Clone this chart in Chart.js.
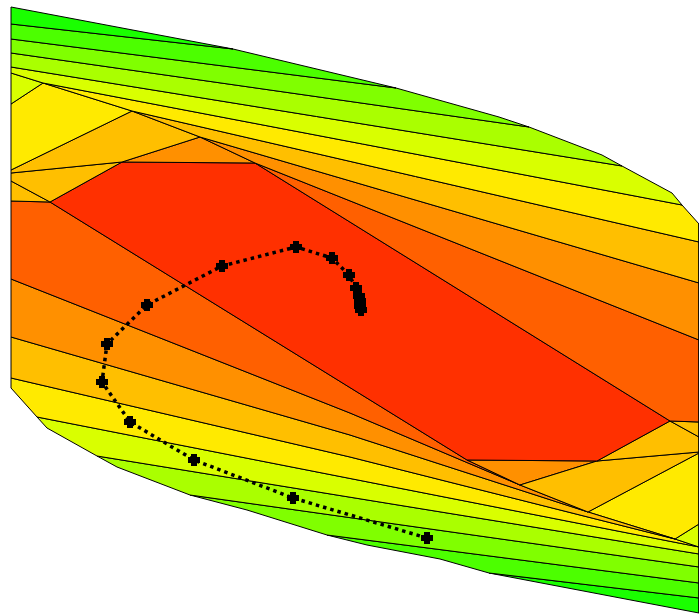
<!DOCTYPE html>
<html><head><meta charset="utf-8">
<script src="https://cdn.jsdelivr.net/npm/chart.js@4.4.1/dist/chart.umd.min.js"></script>
<style>html,body{margin:0;padding:0;background:#fff}#wrap{width:699px;height:616px;position:relative}</style>
</head><body><div id="wrap"><canvas id="c"></canvas></div>
<script>
// Level colours, lowest (0) to highest (9)
const levelColors = ['#1aff00','#4cff00','#80ff00','#aaff00','#d9ff00','#ffea00','#ffbf00','#ff9000','#ff6000','#ff3000'];

// Contour regions: [x, y] vertices in data units, and the level of each region
const band0a = [[0.11,0.07],[2.33,0.49],[0.11,0.24]];
const band1a = [[0.11,0.24],[2.33,0.49],[3.96,0.88],[0.11,0.39]];
const band2a = [[0.11,0.39],[3.96,0.88],[4.99,1.17],[5.29,1.27],[0.11,0.53]];
const band3a = [[0.11,0.53],[5.29,1.27],[6.02,1.55],[6.22,1.66],[0.11,0.67]];
const band4a = [[0.11,0.67],[6.22,1.66],[6.72,1.93],[6.82,2.05],[0.43,0.83],[0.11,0.73]];
const band4b = [[0.11,0.73],[0.43,0.83],[0.11,1.04]];
const band5a = [[0.43,0.83],[6.82,2.05],[6.99,2.24],[6.99,2.42],[1.32,1.11]];
const band5b = [[0.11,1.04],[0.43,0.83],[1.32,1.11],[0.11,1.70]];
const band6a = [[1.32,1.11],[6.99,2.42],[6.99,2.83],[2.00,1.37]];
const band6b = [[0.11,1.70],[1.32,1.11],[2.00,1.37],[1.22,1.62],[0.11,1.73]];
const band6c = [[0.11,1.73],[1.22,1.62],[0.50,2.02],[0.11,1.81]];
const band6h = [[0.11,1.81],[0.50,2.02],[0.11,2.01]];
const band7b = [[2.00,1.37],[6.99,2.83],[6.99,3.40],[2.55,1.63]];
const band7c = [[2.00,1.37],[2.55,1.63],[1.22,1.62]];
const band8a = [[2.55,1.63],[6.99,3.40],[6.99,4.22],[6.70,4.21]];
const band9a = [[0.50,2.02],[1.22,1.62],[2.55,1.63],[6.70,4.21],[5.97,4.61],[4.67,4.60]];
const band6d = [[6.70,4.21],[6.99,4.22],[6.99,4.37]];
const band6e = [[6.70,4.21],[6.99,4.37],[6.99,4.52],[5.97,4.61]];
const band6g = [[5.20,4.85],[5.97,4.61],[6.99,4.52],[6.99,4.53],[5.88,5.12]];
const band7d = [[4.67,4.60],[5.97,4.61],[5.20,4.85]];
const band8b = [[0.11,2.01],[0.50,2.02],[4.67,4.60],[5.20,4.85],[3.50,4.13],[0.11,2.79]];
const band7e = [[0.11,2.79],[3.50,4.13],[5.20,4.85],[5.88,5.12],[3.50,4.35],[0.11,3.37]];
const band6f = [[0.11,3.37],[3.50,4.35],[5.88,5.12],[6.75,5.39],[3.50,4.57],[0.11,3.78]];
const band5c = [[5.88,5.12],[6.99,4.53],[6.99,5.24],[6.75,5.39]];
const band4c = [[6.75,5.39],[6.99,5.24],[6.99,5.47]];
const band5d = [[0.11,3.78],[3.50,4.57],[6.75,5.39],[6.99,5.47],[0.37,4.17],[0.11,3.88]];
const band4d = [[0.37,4.17],[6.99,5.47],[6.99,5.54],[0.97,4.56],[0.47,4.28]];
const band3b = [[0.97,4.56],[6.99,5.54],[6.99,5.67],[1.90,4.95],[1.17,4.67]];
const band2b = [[1.90,4.95],[6.99,5.67],[6.99,5.83],[3.27,5.35],[2.47,5.10]];
const band1b = [[3.27,5.35],[6.99,5.83],[6.99,5.98],[4.89,5.73],[4.40,5.59],[3.67,5.45]];
const band0b = [[4.89,5.73],[6.99,5.98],[6.99,6.13]];

const regions = [band0a,band1a,band2a,band3a,band4a,band4b,band5a,band5b,band6a,band6b,band6c,band6h,band7b,band7c,band8a,band9a,band6d,band6e,band6g,band7d,band8b,band7e,band6f,band5c,band4c,band5d,band4d,band3b,band2b,band1b,band0b];
const regionLevels = [0,1,2,3,4,4,5,5,6,6,6,6,7,7,8,9,6,6,6,7,8,7,6,5,4,5,4,3,2,1,0];

// Optimisation path
const pathX = [4.27,2.93,1.94,1.30,1.02,1.07,1.47,2.22,2.96,3.32,3.49,3.56,3.59,3.60,3.60,3.61];
const pathY = [5.38,4.98,4.60,4.22,3.82,3.44,3.05,2.66,2.47,2.58,2.75,2.88,2.96,3.01,3.06,3.10];

const datasets = [];
datasets.push({
  data: pathX.map((x,i)=>({x, y: pathY[i]})),
  showLine: true, borderColor:'#000', borderWidth:3.5, borderDash:[3.5,4], tension:0,
  pointStyle:'cross', pointRadius:6, pointBorderWidth:6, pointBorderColor:'#000', pointBackgroundColor:'#000',
  fill:false
});
regions.forEach((r,i)=>{
  const pts = r.concat([r[0]]).map(([x,y])=>({x,y}));
  datasets.push({
    data: pts, showLine:true, tension:0, pointRadius:0,
    borderColor:'#000', borderWidth:1,
    backgroundColor: levelColors[regionLevels[i]], fill:'shape'
  });
});

new Chart(document.getElementById('c'), {
  type:'scatter',
  data:{datasets},
  options:{
    responsive:true, maintainAspectRatio:false, animation:false, events:[],
    layout:{padding:0, autoPadding:false},
    plugins:{legend:{display:false}, tooltip:{enabled:false}},
    scales:{
      x:{type:'linear', min:0, max:6.99, display:false},
      y:{type:'linear', min:0, max:6.16, reverse:true, display:false}
    }
  }
});
</script></body></html>
